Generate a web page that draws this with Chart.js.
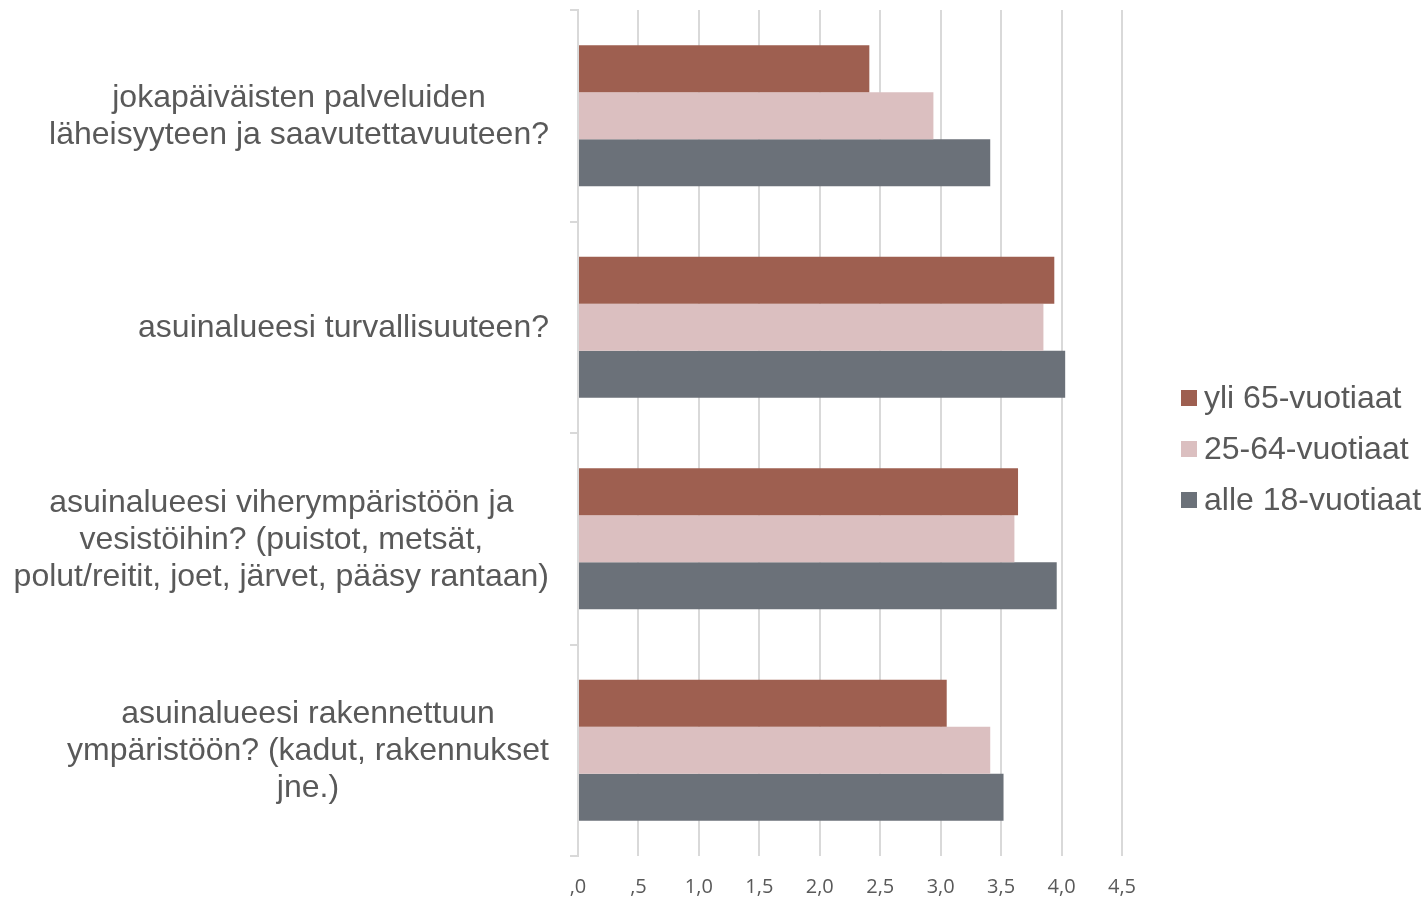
<!DOCTYPE html>
<html><head><meta charset="utf-8">
<script src="https://cdn.jsdelivr.net/npm/chart.js@4"></script>
<style>html,body{margin:0;padding:0;background:#fff}#wrap{width:1426px;height:902px}</style>
</head><body><div id="wrap"><canvas id="c" width="1426" height="902"></canvas></div>
<script>
const categories = [
  ["jokapäiväisten palveluiden", "läheisyyteen ja saavutettavuuteen?"],
  ["asuinalueesi turvallisuuteen?"],
  ["asuinalueesi viherympäristöön ja", "vesistöihin? (puistot, metsät,", "polut/reitit, joet, järvet, pääsy rantaan)"],
  ["asuinalueesi rakennettuun", "ympäristöön? (kadut, rakennukset", "jne.)"]
];
const seriesNames = ["yli 65-vuotiaat", "25-64-vuotiaat", "alle 18-vuotiaat"];
const yli65 = [2.41, 3.94, 3.64, 3.05];
const age25to64 = [2.94, 3.85, 3.61, 3.41];
const alle18 = [3.41, 4.03, 3.96, 3.52];
const xTickLabels = [",0", ",5", "1,0", "1,5", "2,0", "2,5", "3,0", "3,5", "4,0", "4,5"];
const seriesColors = ["#9e5f50", "#dbbfc0", "#6b7179"];
const textColor = "#595959";
const gridColor = "#d9d9d9";

const customText = {
  id: 'customText',
  afterDraw(chart) {
    const ctx = chart.ctx, y = chart.scales.y, area = chart.chartArea;
    ctx.save();
    ctx.fillStyle = textColor;
    ctx.font = '32px "Liberation Sans", Arial, sans-serif';
    ctx.textBaseline = 'middle';
    ctx.textAlign = 'center';
    const lh = 37;
    chart.data.labels.forEach((lines, i) => {
      const cy = y.getPixelForTick(i) + 1;
      const w = Math.max(...lines.map(l => ctx.measureText(l).width));
      const cx = area.left - 29 - w / 2;
      lines.forEach((l, j) => ctx.fillText(l, cx, cy + (j - (lines.length - 1) / 2) * lh));
    });
    // legend
    ctx.textAlign = 'left';
    const bx = area.right + 59;
    const mid = chart.height / 2 - 2;
    chart.data.datasets.forEach((ds, i) => {
      const cy = mid + (i - 1) * 51;
      ctx.fillStyle = ds.backgroundColor;
      ctx.fillRect(bx, cy - 8, 16, 16);
      ctx.fillStyle = textColor;
      ctx.fillText(ds.label, bx + 23, cy + 1);
    });
    ctx.restore();
  }
};

const seriesData = [yli65, age25to64, alle18];
new Chart(document.getElementById('c'), {
  type: 'bar',
  data: {
    labels: categories,
    datasets: seriesNames.map((n, i) => ({
      label: n,
      data: seriesData[i],
      backgroundColor: seriesColors[i],
      borderWidth: 0,
      categoryPercentage: 0.667,
      barPercentage: 1.0
    }))
  },
  options: {
    indexAxis: 'y',
    responsive: false,
    animation: false,
    layout: { padding: { top: 10, right: 304, left: 0, bottom: 0 } },
    plugins: { legend: { display: false }, tooltip: { enabled: false } },
    scales: {
      x: {
        min: 0, max: 4.5,
        ticks: {
          stepSize: 0.5,
          color: textColor,
          font: { family: '"Open Sans", sans-serif', size: 20 },
          padding: 19,
          callback: (v, i) => xTickLabels[i]
        },
        grid: { color: gridColor, lineWidth: 2, drawTicks: false },
        border: { display: false },
        afterFit: s => { s.height = 46; }
      },
      y: {
        ticks: { color: 'rgba(0,0,0,0)', font: { size: 1 }, padding: 0 },
        grid: { drawOnChartArea: false, drawTicks: true, tickLength: 8, color: gridColor, lineWidth: 2, offset: true },
        border: { display: true, color: gridColor, width: 2 },
        afterFit: s => { s.width = 578; }
      }
    }
  },
  plugins: [customText]
});
</script>
</body></html>
